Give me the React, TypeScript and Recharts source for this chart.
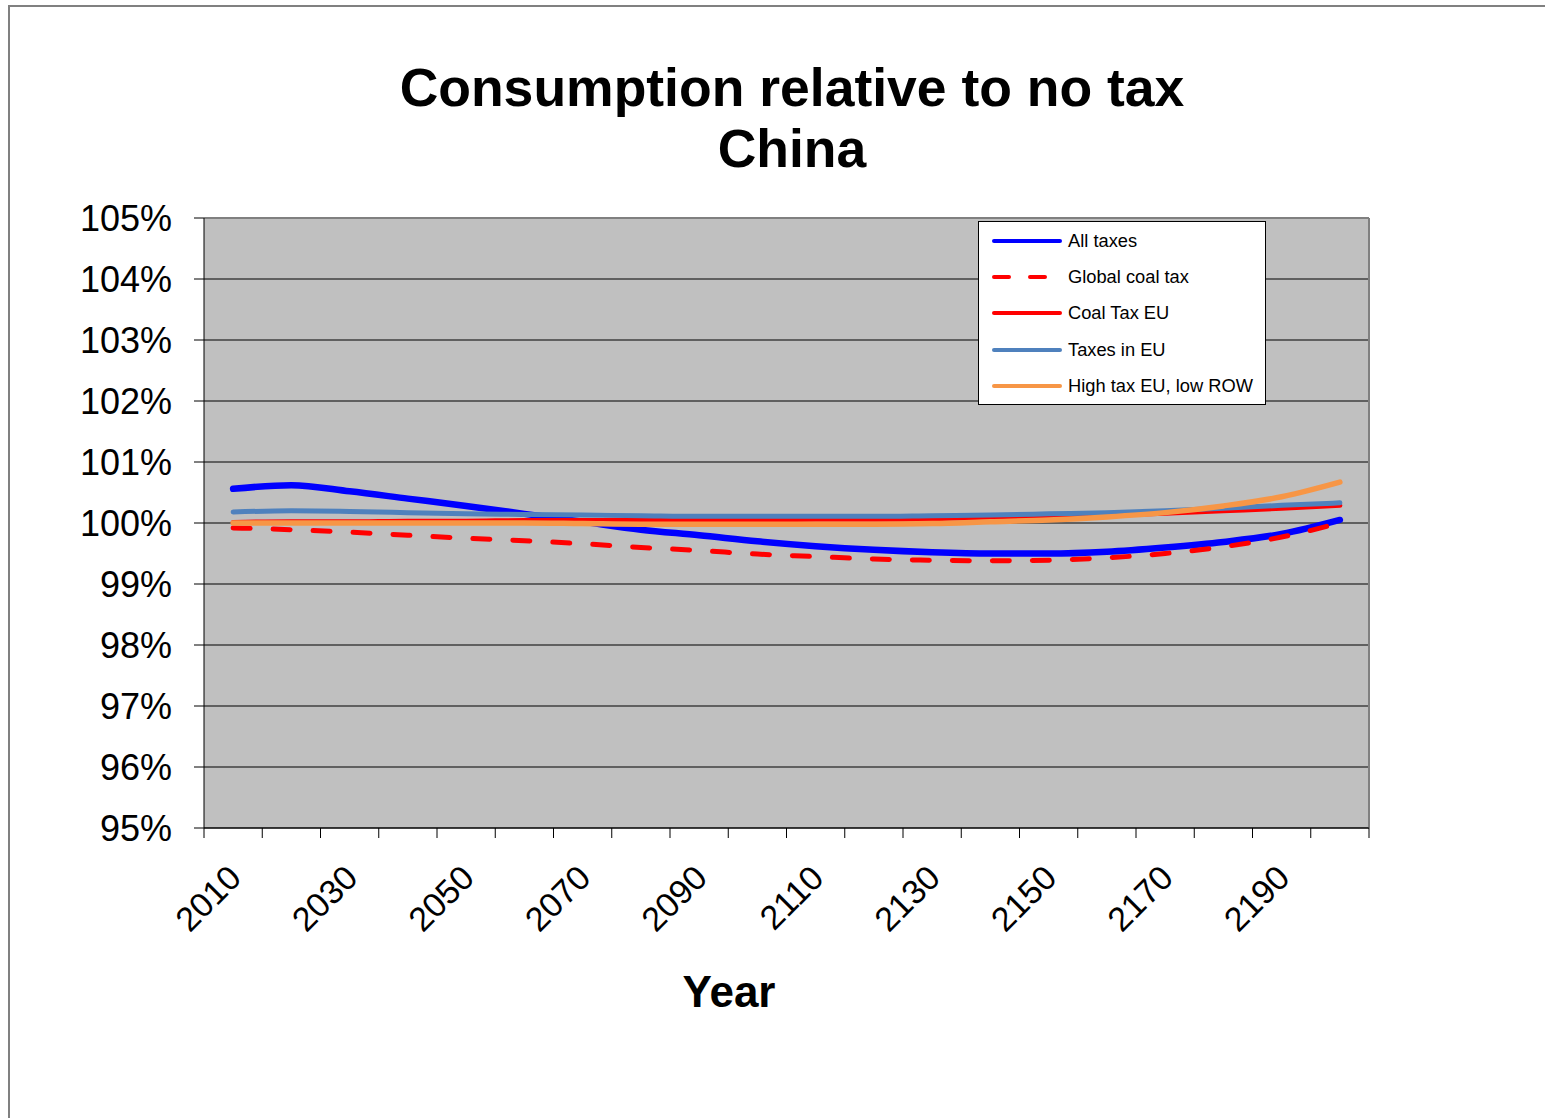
import React from 'react';
import {
  LineChart,
  Line,
  XAxis,
  YAxis,
  CartesianGrid,
  ReferenceLine,
} from 'recharts';

// Model years (one point per decade)
const YEARS = [
  2010, 2020, 2030, 2040, 2050, 2060, 2070, 2080, 2090, 2100,
  2110, 2120, 2130, 2140, 2150, 2160, 2170, 2180, 2190, 2200,
];

// Years that get a label under the axis
const LABEL_YEARS = [2010, 2030, 2050, 2070, 2090, 2110, 2130, 2150, 2170, 2190];

// Consumption as % of the no-tax run
const ALL_TAXES = [
  100.56, 100.62, 100.52, 100.40, 100.28, 100.15, 100.02, 99.89, 99.80, 99.70,
  99.62, 99.56, 99.52, 99.50, 99.50, 99.53, 99.60, 99.69, 99.82, 100.05,
];
const GLOBAL_COAL_TAX = [
  99.92, 99.89, 99.85, 99.80, 99.75, 99.71, 99.66, 99.60, 99.55, 99.49,
  99.45, 99.41, 99.39, 99.38, 99.39, 99.43, 99.50, 99.61, 99.77, 100.0,
];
const COAL_TAX_EU = [
  100.01, 100.02, 100.02, 100.03, 100.03, 100.04, 100.04, 100.05, 100.05, 100.05,
  100.06, 100.06, 100.07, 100.09, 100.10, 100.13, 100.16, 100.20, 100.24, 100.29,
];
const TAXES_IN_EU = [
  100.18, 100.20, 100.19, 100.17, 100.15, 100.14, 100.13, 100.12, 100.11, 100.11,
  100.11, 100.11, 100.12, 100.13, 100.15, 100.17, 100.20, 100.24, 100.29, 100.33,
];
const HIGH_TAX_EU_LOW_ROW = [
  100.0, 100.0, 100.0, 100.0, 100.0, 100.0, 99.99, 99.98, 99.98, 99.98,
  99.98, 99.98, 99.99, 100.02, 100.05, 100.10, 100.17, 100.28, 100.43, 100.67,
];

const Y_TICKS = [95, 96, 97, 98, 99, 100, 101, 102, 103, 104, 105];

const SERIES = [
  { key: 'all', label: 'All taxes', color: '#0000FF', width: 6.5, dash: undefined, values: ALL_TAXES },
  { key: 'global', label: 'Global coal tax', color: '#FF0000', width: 5, dash: '17 23', values: GLOBAL_COAL_TAX },
  { key: 'coalEu', label: 'Coal Tax EU', color: '#FF0000', width: 5, dash: undefined, values: COAL_TAX_EU },
  { key: 'taxesEu', label: 'Taxes in EU', color: '#4F81BD', width: 5, dash: undefined, values: TAXES_IN_EU },
  { key: 'highTax', label: 'High tax EU, low ROW', color: '#F79646', width: 5.5, dash: undefined, values: HIGH_TAX_EU_LOW_ROW },
];

const data = YEARS.map((year, i) => {
  const row: Record<string, number> = { year };
  SERIES.forEach((s) => {
    row[s.key] = s.values[i];
  });
  return row;
});

// plot box
const W = 1545;
const H = 1118;
const PLOT_LEFT = 204;
const PLOT_RIGHT = 1369;
const PLOT_TOP = 218;
const PLOT_BOTTOM = 828;
const X_AXIS_H = 60;

// each year sits in the middle of a 10-year slot
const X_MIN = YEARS[0] - 5;
const X_MAX = YEARS[YEARS.length - 1] + 5;
const SLOT_BOUNDS = [...YEARS.map((y) => y - 5), X_MAX];
const HALF_SLOT = ((PLOT_RIGHT - PLOT_LEFT) / (X_MAX - X_MIN)) * 5;

const FONT = '"Liberation Sans", Arial, sans-serif';

function YearTick(props: any) {
  const { x, payload } = props;
  const year = payload.value + 5;
  const show = LABEL_YEARS.includes(year);
  const ax = x + HALF_SLOT + 10;
  const ay = 880;
  return (
    <g>
      <line x1={x} x2={x} y1={PLOT_BOTTOM} y2={PLOT_BOTTOM + 10} stroke="#000" strokeWidth={1} />
      {show && (
        <text
          x={ax}
          y={ay}
          textAnchor="end"
          transform={`rotate(-45, ${ax}, ${ay})`}
          fontSize={34}
          fontFamily={FONT}
          fill="#000"
        >
          {year}
        </text>
      )}
    </g>
  );
}

function LegendBox() {
  const rows = [20, 56, 92, 129, 165];
  return (
    <svg
      width={288}
      height={184}
      style={{ position: 'absolute', left: 978, top: 221 }}
    >
      <rect x={0.5} y={0.5} width={287} height={183} fill="#fff" stroke="#000" strokeWidth={1} />
      {SERIES.map((s, i) => (
        <g key={s.key}>
          <line
            x1={16}
            x2={82}
            y1={rows[i]}
            y2={rows[i]}
            stroke={s.color}
            strokeWidth={4}
            strokeLinecap="round"
            strokeDasharray={s.dash ? '15 21' : undefined}
          />
          <text x={90} y={rows[i] + 6} fontSize={18.3} fontFamily={FONT} fill="#000">
            {s.label}
          </text>
        </g>
      ))}
    </svg>
  );
}

export default function App() {
  return (
    <div
      style={{
        position: 'absolute',
        left: 0,
        top: 0,
        width: W,
        height: H,
        overflow: 'hidden',
        background: '#fff',
        fontFamily: FONT,
      }}
    >
      {/* outer frame */}
      <div
        style={{
          position: 'absolute',
          left: 8,
          top: 5,
          width: 1700,
          height: 1300,
          border: '2px solid #808080',
        }}
      />

      <div
        style={{
          position: 'absolute',
          left: 0,
          top: 57,
          width: 1584,
          textAlign: 'center',
          fontSize: 53.5,
          fontWeight: 'bold',
          lineHeight: '61px',
          color: '#000',
        }}
      >
        Consumption relative to no tax
        <br />
        China
      </div>

      <div style={{ position: 'absolute', left: 0, top: 0 }}>
        <LineChart
          width={W}
          height={H}
          data={data}
          margin={{ top: PLOT_TOP, right: W - PLOT_RIGHT, bottom: H - PLOT_BOTTOM - X_AXIS_H, left: 0 }}
        >
          <CartesianGrid
            vertical={false}
            stroke="#000"
            strokeWidth={1}
            fill="#C0C0C0"
            fillOpacity={1}
          />
          <XAxis
            dataKey="year"
            type="number"
            domain={[X_MIN, X_MAX]}
            ticks={SLOT_BOUNDS}
            interval={0}
            height={X_AXIS_H}
            tickLine={false}
            tick={<YearTick />}
            axisLine={{ stroke: '#000', strokeWidth: 1 }}
          />
          <YAxis
            type="number"
            domain={[95, 105]}
            ticks={Y_TICKS}
            interval={0}
            width={PLOT_LEFT}
            tickSize={10}
            tickMargin={22}
            tickLine={{ stroke: '#000' }}
            axisLine={{ stroke: '#000', strokeWidth: 1 }}
            tickFormatter={(v: number) => `${v}%`}
            tick={{ fill: '#000', fontSize: 36, fontFamily: FONT }}
          />
          <ReferenceLine y={105} stroke="#808080" strokeWidth={2} />
          <ReferenceLine x={X_MAX} stroke="#808080" strokeWidth={2} />
          {SERIES.map((s) => (
            <Line
              key={s.key}
              type="monotone"
              dataKey={s.key}
              name={s.label}
              stroke={s.color}
              strokeWidth={s.width}
              strokeDasharray={s.dash}
              strokeLinecap="round"
              strokeLinejoin="round"
              dot={false}
              activeDot={false}
              isAnimationActive={false}
            />
          ))}
        </LineChart>
      </div>

      <div
        style={{
          position: 'absolute',
          left: 529,
          top: 970,
          width: 400,
          textAlign: 'center',
          fontSize: 44,
          fontWeight: 'bold',
          lineHeight: '44px',
          color: '#000',
        }}
      >
        Year
      </div>

      <LegendBox />
    </div>
  );
}
